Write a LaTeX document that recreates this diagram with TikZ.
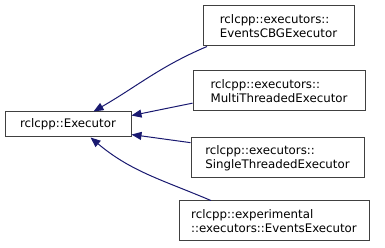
\documentclass[tikz,border=0pt]{standalone}
\usepackage{fontspec}
\setmainfont{DejaVu Sans}
\usetikzlibrary{arrows.meta}
\definecolor{edgeblue}{HTML}{191970}
\definecolor{boxgray}{HTML}{404040}

\begin{document}
\begin{tikzpicture}[x=1pt,y=1pt,>={Triangle[length=10pt,width=8pt]},
  cls/.style={draw=boxgray,line width=1pt,align=left,inner sep=0pt,
    font=\fontsize{11.8}{14}\selectfont},
  inh/.style={<-,edgeblue,line width=1pt}]
\useasboundingbox (0,0) rectangle (385,248);
\node[cls,minimum width=126,minimum height=25] (exec) at (68,123.5) {rclcpp::Executor};
\node[cls,minimum width=151,minimum height=40] (cbg) at (278.5,222) {rclcpp::executors::\\EventsCBGExecutor};
\node[cls,minimum width=172,minimum height=40] (multi) at (279,157) {rclcpp::executors::\\MultiThreadedExecutor};
\node[cls,minimum width=173,minimum height=40] (single) at (277.5,90) {rclcpp::executors::\\SingleThreadedExecutor};
\node[cls,minimum width=190,minimum height=40] (evx) at (274,27) {rclcpp::experimental\\::executors::EventsExecutor};
\draw[inh] (exec.27) to[out=30,in=203] (cbg.196);
\draw[inh] (exec.8) -- (multi.188);
\draw[inh] (exec.-9) -- (single.170);
\draw[inh] (exec.-30) to[out=-40,in=157] (evx.162);
\end{tikzpicture}
\end{document}
